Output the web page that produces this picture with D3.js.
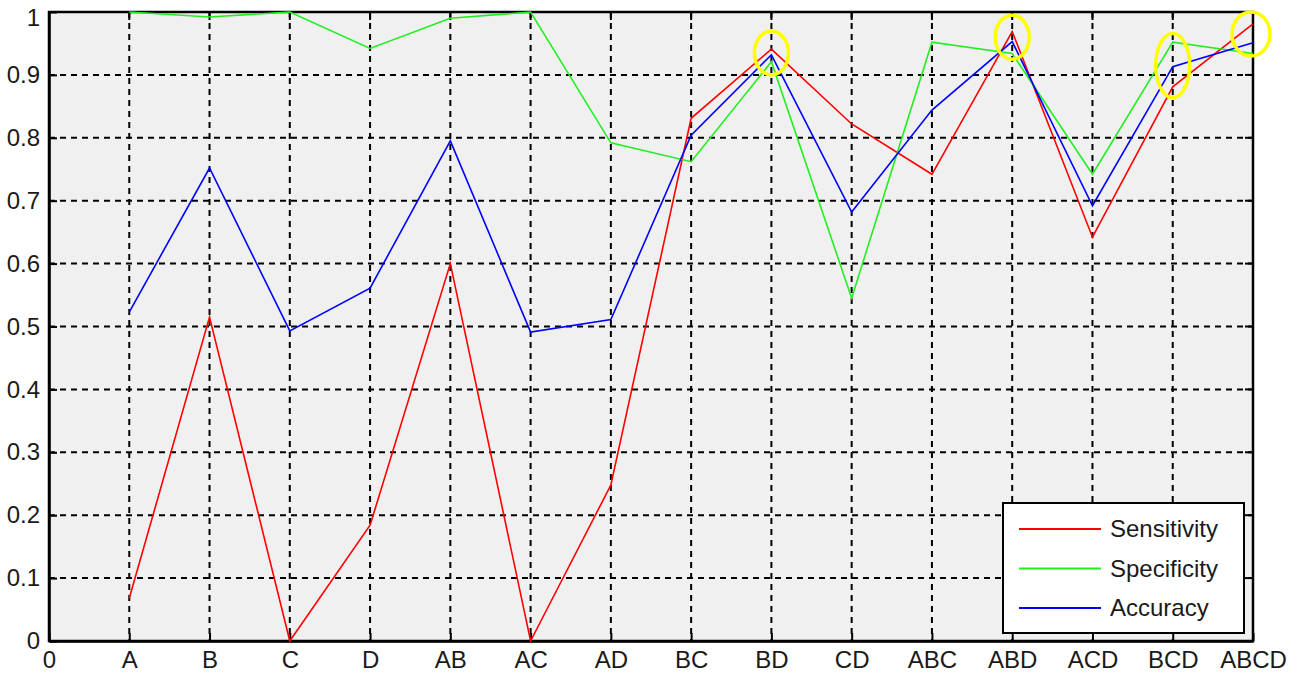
<!DOCTYPE html>
<html><head><meta charset="utf-8">
<script src="https://cdn.jsdelivr.net/npm/d3@7"></script>
<style>body{margin:0;background:#fff;}svg{display:block;}</style>
</head><body>
<svg id="c" width="1300" height="674"></svg>
<script>
const categories = ["0","A","B","C","D","AB","AC","AD","BC","BD","CD","ABC","ABD","ACD","BCD","ABCD"];
const sensitivity = [0.068,0.515,0.0,0.184,0.600,0.0,0.248,0.831,0.941,0.822,0.742,0.969,0.642,0.881,0.981];
const specificity = [1.0,0.992,1.0,0.942,0.990,1.0,0.792,0.762,0.921,0.545,0.952,0.934,0.742,0.952,0.934];
const accuracy    = [0.523,0.752,0.493,0.561,0.795,0.491,0.511,0.804,0.932,0.682,0.844,0.953,0.692,0.913,0.951];
const yTicks = [0,0.1,0.2,0.3,0.4,0.5,0.6,0.7,0.8,0.9,1];
const seriesNames = ["Sensitivity","Specificity","Accuracy"];
const seriesColors = ["#ff0000","#22ee22","#0000ff"];

const svg = d3.select("#c");
const L=49, R=1253, T=12, B=641;
const x = d3.scaleLinear().domain([0,15]).range([L,R]);
const y = d3.scaleLinear().domain([0,1]).range([B,T]);
const font = "Arial, 'Liberation Sans', sans-serif";
const fs = 24;

svg.append("rect").attr("x",L).attr("y",T).attr("width",R-L).attr("height",B-T).attr("fill","#f0f0f0");

// grid
const g = svg.append("g");
g.selectAll("line.vg").data(d3.range(1,15)).join("line")
  .attr("x1",d=>x(d)).attr("x2",d=>x(d)).attr("y1",T).attr("y2",B)
  .attr("stroke","#000").attr("stroke-width",2).attr("stroke-dasharray","6,5");
g.selectAll("line.hg").data(yTicks.slice(1,10)).join("line")
  .attr("x1",L).attr("x2",R).attr("y1",d=>y(d)).attr("y2",d=>y(d))
  .attr("stroke","#000").attr("stroke-width",2).attr("stroke-dasharray","6,5");

// axes
const xAxis = d3.axisBottom(x).tickValues(d3.range(0,16)).tickFormat(i=>categories[i]).tickSizeInner(-8).tickSizeOuter(0).tickPadding(10);
const yAxis = d3.axisLeft(y).tickValues(yTicks).tickFormat(d=>d3.format("")(d)).tickSizeInner(-8).tickSizeOuter(0).tickPadding(9);
const xa = svg.append("g").attr("transform",`translate(0,${B})`).call(xAxis);
const ya = svg.append("g").attr("transform",`translate(${L},0)`).call(yAxis);
[xa,ya].forEach(a=>{
  a.selectAll("text").attr("font-family",font).attr("font-size",fs).attr("fill","#1a1a1a");
  a.selectAll("line").attr("stroke","#000").attr("stroke-width",2);
  a.select(".domain").attr("stroke","#000").attr("stroke-width",2.5);
});
// keep the top label inside the picture
ya.selectAll(".tick").filter(d=>d===1).select("text").attr("dy","0.55em");

// top & right ticks
svg.append("g").selectAll("line").data(d3.range(1,15)).join("line")
  .attr("x1",d=>x(d)).attr("x2",d=>x(d)).attr("y1",T).attr("y2",T+8).attr("stroke","#000").attr("stroke-width",2);
svg.append("g").selectAll("line").data(yTicks).join("line")
  .attr("x1",R-8).attr("x2",R).attr("y1",d=>y(d)).attr("y2",d=>y(d)).attr("stroke","#000").attr("stroke-width",2);
svg.append("rect").attr("x",L).attr("y",T).attr("width",R-L).attr("height",B-T)
  .attr("fill","none").attr("stroke","#000").attr("stroke-width",2.5);

// lines
const line = d3.line().x((d,i)=>x(i+1)).y(d=>y(d));
[sensitivity,specificity,accuracy].forEach((s,k)=>{
  svg.append("path").datum(s).attr("d",line).attr("fill","none")
    .attr("stroke",seriesColors[k]).attr("stroke-width",1.6);
});

// highlight ellipses
const hl = [
  {c:"BD", v:0.935, rx:17, ry:22},
  {c:"ABD", v:0.96, rx:17, ry:22},
  {c:"BCD", v:0.915, rx:17, ry:32},
  {c:"ABCD", v:0.965, rx:19, ry:22}
];
svg.append("g").selectAll("ellipse").data(hl).join("ellipse")
  .attr("cx",d=>x(categories.indexOf(d.c)) - (d.c==="ABCD"?2:0))
  .attr("cy",d=>y(d.v)).attr("rx",d=>d.rx).attr("ry",d=>d.ry)
  .attr("fill","none").attr("stroke","#ffff00").attr("stroke-width",3.5);

// legend
const lg = svg.append("g").attr("transform","translate(1003,503)");
lg.append("rect").attr("width",241).attr("height",130).attr("fill","#fff").attr("stroke","#000").attr("stroke-width",2);
seriesNames.forEach((n,i)=>{
  const yy = 26 + i*39.5;
  lg.append("line").attr("x1",16).attr("x2",98).attr("y1",yy).attr("y2",yy)
    .attr("stroke",seriesColors[i]).attr("stroke-width",1.8);
  lg.append("text").attr("x",107).attr("y",yy).attr("dy","0.35em")
    .attr("font-family",font).attr("font-size",fs).attr("fill","#1a1a1a").text(n);
});
</script>
</body></html>
